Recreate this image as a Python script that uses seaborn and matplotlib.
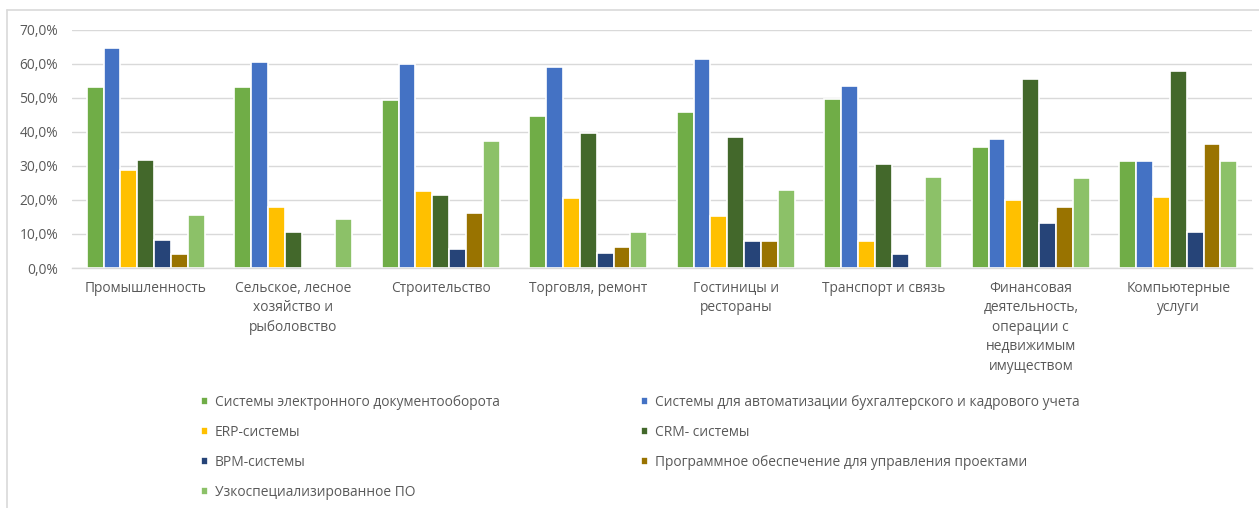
import matplotlib
matplotlib.use("Agg")
import matplotlib.pyplot as plt
from matplotlib.lines import Line2D
from matplotlib.ticker import FuncFormatter, MultipleLocator
import seaborn as sns
import pandas as pd

# Sectors (x categories) and their wrapped tick labels
categories = [
    "Промышленность",
    "Сельское, лесное хозяйство и рыболовство",
    "Строительство",
    "Торговля, ремонт",
    "Гостиницы и рестораны",
    "Транспорт и связь",
    "Финансовая деятельность, операции с недвижимым имуществом",
    "Компьютерные услуги",
]
tick_labels = [
    "Промышленность",
    "Сельское, лесное\nхозяйство и\nрыболовство",
    "Строительство",
    "Торговля, ремонт",
    "Гостиницы и\nрестораны",
    "Транспорт и связь",
    "Финансовая\nдеятельность,\nоперации с\nнедвижимым\nимуществом",
    "Компьютерные\nуслуги",
]

# Software types (series) and their shares of companies, %
series = [
    "Системы электронного документооборота",
    "Системы для автоматизации бухгалтерского и кадрового учета",
    "ERP-системы",
    "CRM- системы",
    "BPM-системы",
    "Программное обеспечение для управления проектами",
    "Узкоспециализированное ПО",
]
edo = [53.3, 53.3, 49.4, 44.8, 46.0, 49.8, 35.5, 31.5]
accounting = [64.6, 60.7, 60.0, 59.2, 61.5, 53.6, 37.8, 31.5]
erp = [28.9, 18.0, 22.6, 20.7, 15.3, 7.9, 20.0, 21.0]
crm = [31.9, 10.7, 21.4, 39.7, 38.6, 30.7, 55.7, 58.0]
bpm = [8.3, 0.0, 5.6, 4.4, 7.9, 4.0, 13.3, 10.6]
project_mgmt = [4.0, 0.0, 16.2, 6.3, 7.9, 0.0, 17.9, 36.6]
specialized = [15.7, 14.5, 37.4, 10.6, 23.0, 26.9, 26.4, 31.5]

colors = ["#70AD47", "#4472C4", "#FFC000", "#43682B", "#264478", "#997300", "#8CC168"]

values = [edo, accounting, erp, crm, bpm, project_mgmt, specialized]
rows = []
for name, vals in zip(series, values):
    for cat, v in zip(categories, vals):
        rows.append({"Отрасль": cat, "Тип ПО": name, "Доля": v / 100.0})
df = pd.DataFrame(rows)

sns.set_theme(style="white")
plt.rcParams["font.family"] = ["Open Sans", "DejaVu Sans"]

text_color = "#595959"
grid_color = "#D9D9D9"
font_size = 9.9

fig = plt.figure(figsize=(12.59, 5.08), dpi=100)
ax = fig.add_axes([72 / 1259, 1 - 268 / 508, (1252 - 72) / 1259, (268 - 30) / 508])

sns.barplot(
    data=df, x="Отрасль", y="Доля", hue="Тип ПО",
    order=categories, hue_order=series, palette=colors,
    width=0.8, edgecolor="white", linewidth=1.2, saturation=1,
    errorbar=None, ax=ax,
)

ax.set_ylim(0, 0.7)
ax.yaxis.set_major_locator(MultipleLocator(0.1))
ax.yaxis.set_major_formatter(
    FuncFormatter(lambda v, _: f"{v * 100:.1f}%".replace(".", ","))
)
ax.grid(axis="y", color=grid_color, linewidth=1)
ax.set_axisbelow(True)
for side in ["left", "right", "top"]:
    ax.spines[side].set_visible(False)
ax.spines["bottom"].set_color(grid_color)
ax.spines["bottom"].set_linewidth(1)

ax.set_xticks(range(len(categories)))
ax.set_xticklabels(tick_labels, linespacing=1.42, va="top")
ax.tick_params(axis="x", length=0, pad=9, labelsize=font_size, labelcolor=text_color)
ax.tick_params(axis="y", length=0, pad=10, labelsize=font_size, labelcolor=text_color)
ax.set_xlabel("")
ax.set_ylabel("")

# Two-column legend laid out row by row under the plot
handles, labels = ax.get_legend_handles_labels()
ax.get_legend().remove()
leg_kw = dict(
    frameon=False, fontsize=font_size, labelcolor=text_color,
    handlelength=0.52, handleheight=0.52, handletextpad=0.5,
    labelspacing=1.08, borderpad=0, borderaxespad=0,
)
left_idx = [0, 2, 4, 6]
right_idx = [1, 3, 5]
fig.legend([handles[i] for i in left_idx], [labels[i] for i in left_idx],
           loc="upper left", bbox_to_anchor=(201 / 1259, 1 - 395 / 508), **leg_kw)
fig.legend([handles[i] for i in right_idx], [labels[i] for i in right_idx],
           loc="upper left", bbox_to_anchor=(641 / 1259, 1 - 395 / 508), **leg_kw)

# Thin chart-area frame on the top and left edges
fig.add_artist(Line2D([7 / 1259, 1], [1 - 10 / 508, 1 - 10 / 508],
                      transform=fig.transFigure, color=grid_color, linewidth=1.2))
fig.add_artist(Line2D([7 / 1259, 7 / 1259], [0, 1 - 10 / 508],
                      transform=fig.transFigure, color=grid_color, linewidth=1.2))

fig.savefig("out.png", dpi=100, facecolor="white")
